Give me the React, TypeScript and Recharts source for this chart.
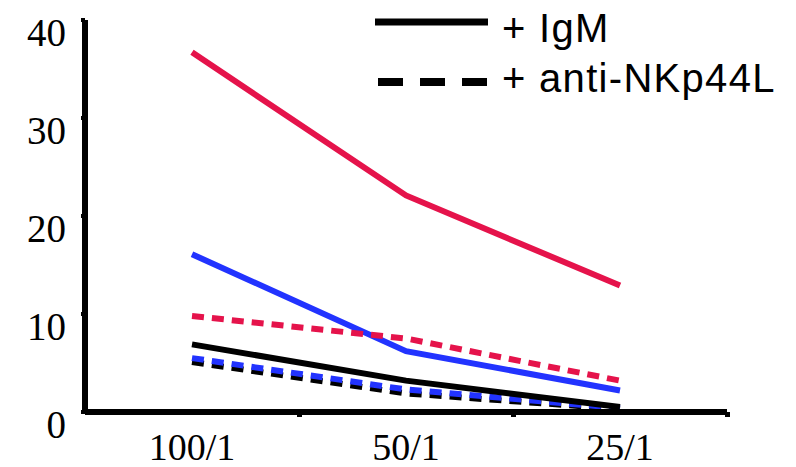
import React from 'react';
import { LineChart, Line, XAxis, YAxis, Legend } from 'recharts';

const categories = ['100/1', '50/1', '25/1'];
const redIgM = [36.7, 22.1, 12.9];
const blueIgM = [16.1, 6.2, 2.2];
const blackIgM = [6.9, 3.2, 0.5];
const redAnti = [9.8, 7.5, 3.2];
const blueAnti = [5.5, 2.3, 0.4];
const blackAnti = [5.1, 1.9, 0.3];
const yTicks = [0, 10, 20, 30, 40];
const legendLabels = ['+ IgM', '+ anti-NKp44L'];

const RED = '#E5134B';
const BLUE = '#2233FF';

const data = categories.map((c, i) => ({
  x: i + 0.5,
  name: c,
  redIgM: redIgM[i],
  blueIgM: blueIgM[i],
  blackIgM: blackIgM[i],
  redAnti: redAnti[i],
  blueAnti: blueAnti[i],
  blackAnti: blackAnti[i],
}));

const xTicks = [0, 0.5, 1, 1.5, 2, 2.5, 3];

const XTick = (props: any) => {
  const { x, y, payload } = props;
  const v = payload.value;
  if (Number.isInteger(v)) {
    if (v === 0) return null;
    return <rect x={x - 2} y={y} width={5} height={5} fill="#000" />;
  }
  const label = categories[Math.floor(v)];
  return (
    <text x={x} y={y + 48} textAnchor="middle" fontFamily="'Liberation Serif', 'Times New Roman', serif" fontSize={38} fill="#000">
      {label}
    </text>
  );
};

const YTick = (props: any) => {
  const { x, y, payload } = props;
  return (
    <text x={x} y={y + 26} textAnchor="end" fontFamily="'Liberation Serif', 'Times New Roman', serif" fontSize={39} fill="#000">
      {payload.value}
    </text>
  );
};

const LegendContent = () => (
  <svg width={420} height={100}>
    <line x1={5} y1={22} x2={118} y2={22} stroke="#000" strokeWidth={7} />
    <text x={132} y={42} fontFamily="'Liberation Sans', Arial, sans-serif" fontSize={40} letterSpacing={1.3} fill="#000">{legendLabels[0]}</text>
    <line x1={8} y1={82} x2={118} y2={82} stroke="#000" strokeWidth={8} strokeDasharray="25 17" />
    <text x={132} y={92} fontFamily="'Liberation Sans', Arial, sans-serif" fontSize={40} letterSpacing={1.3} fill="#000">{legendLabels[1]}</text>
  </svg>
);

export default function App() {
  return (
    <div style={{ position: 'absolute', left: 0, top: 0 }}>
      <LineChart width={796} height={467} data={data} margin={{ top: 20, right: 69, bottom: 0, left: 0 }}>
        <XAxis
          dataKey="x"
          type="number"
          domain={[0, 3]}
          ticks={xTicks}
          interval={0}
          height={55}
          tick={<XTick />}
          tickLine={false}
          tickSize={0}
          tickMargin={0}
          axisLine={{ stroke: '#000', strokeWidth: 6 }}
        />
        <YAxis
          type="number"
          domain={[0, 40]}
          ticks={yTicks}
          width={85}
          tick={<YTick />}
          tickSize={4}
          tickMargin={15}
          tickLine={{ stroke: '#000', strokeWidth: 4 }}
          axisLine={{ stroke: '#000', strokeWidth: 6 }}
        />
        <Legend
          layout="horizontal"
          verticalAlign="middle"
          align="center"
          wrapperStyle={{ position: 'absolute', top: 0, left: 370, width: 420, height: 100 }}
          content={<LegendContent />}
        />
        <Line dataKey="blackAnti" stroke="#000" strokeWidth={6} strokeDasharray="12 8" dot={false} isAnimationActive={false} />
        <Line dataKey="blueAnti" stroke={BLUE} strokeWidth={6} strokeDasharray="12 8" dot={false} isAnimationActive={false} />
        <Line dataKey="blackIgM" stroke="#000" strokeWidth={6} dot={false} isAnimationActive={false} />
        <Line dataKey="blueIgM" stroke={BLUE} strokeWidth={6} dot={false} isAnimationActive={false} />
        <Line dataKey="redAnti" stroke={RED} strokeWidth={6} strokeDasharray="12 8" dot={false} isAnimationActive={false} />
        <Line dataKey="redIgM" stroke={RED} strokeWidth={6} dot={false} isAnimationActive={false} />
      </LineChart>
    </div>
  );
}
